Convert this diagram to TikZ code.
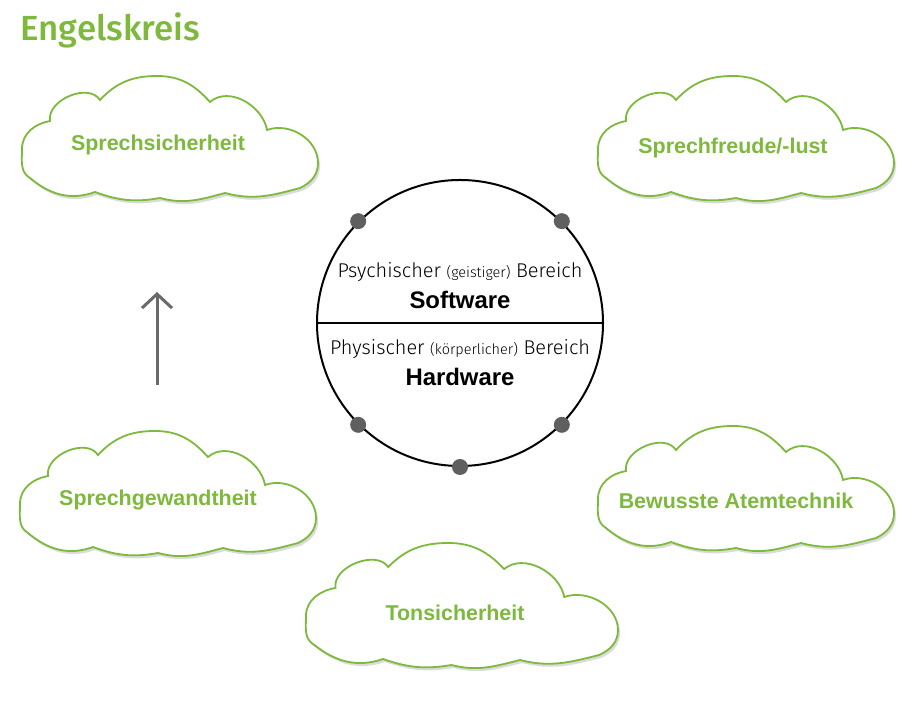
\documentclass[tikz,border=0pt]{standalone}
\usepackage{fontspec}
\usetikzlibrary{arrows.meta}
\newfontfamily\wolkenfont{Liberation Sans}
\newfontfamily\kreisfont{Fira Sans Light}
\newfontfamily\titelfont{Fira Sans Medium}
\definecolor{gruen}{RGB}{125,185,60}
\definecolor{punktgrau}{RGB}{95,95,95}
\definecolor{pfeilgrau}{RGB}{105,105,105}
\tikzset{
  wolkenrand/.style={draw=gruen, line width=1.8bp, fill=white,
    preaction={fill=black!14, transform canvas={shift={(2bp,-3bp)}}}},
  wolkentext/.style={text=gruen, font=\wolkenfont\bfseries\fontsize{21.5}{24}\selectfont},
  kreistext/.style={font=\kreisfont\fontsize{20}{22}\selectfont},
  kreisfett/.style={font=\wolkenfont\bfseries\fontsize{24}{26}\selectfont},
  punkt/.style={circle, fill=punktgrau, inner sep=0pt, minimum size=16bp},
  wolke/.pic={
    \draw[wolkenrand] (8,27) to[out=150,in=270] (0,56) to[out=90,in=190] (28,84)
      to[out=99,in=123] (78,105) to[out=47,in=180] (135,129) to[out=0,in=132] (188,103)
      to[out=41,in=100] (245,75) to[out=20,in=90] (296,42) to[out=270,in=25] (278,17)
      to[out=195,in=-15] (203,12) to[out=195,in=-15] (138,7) to[out=190,in=-20] (73,13)
      to[out=200,in=-40] cycle;
  }
}
\newcommand{\klein}[1]{{\fontsize{14.5}{16}\selectfont #1}}
\begin{document}
\begin{tikzpicture}[x=1bp,y=1bp]
\useasboundingbox[fill=white] (0,0) rectangle (919,723);

% Titel
\node[anchor=west, text=gruen, font=\titelfont\fontsize{35}{38}\selectfont] (titel) at (17,693) {Engelskreis};

% Wolken
\pic at (22,518) {wolke};
\pic at (598,518) {wolke};
\pic at (20,163) {wolke};
\pic at (598,168) {wolke};
\pic[xscale=1.054] at (306,51) {wolke};

% Text Node
\node[wolkentext] (sicherheit) at (158,578) {Sprechsicherheit};
\node[wolkentext] (freude) at (733,575) {Sprechfreude/-lust};
\node[wolkentext] (gewandtheit) at (158,223) {Sprechgewandtheit};
\node[wolkentext] (atemtechnik) at (736,222) {Bewusste Atemtechnik};
\node[wolkentext] (ton) at (455,110) {Tonsicherheit};

% Kreis
\node[circle, draw=black, line width=2bp, minimum size=286bp, inner sep=0pt] (kreis) at (460,400) {};
\draw[line width=1.6bp] (kreis.west) -- (kreis.east);
\foreach \w in {45,135,225,270,315}
  \node[punkt] at (kreis.\w) {};

% Text Node
\node[kreistext] (psych) at (460,451) {Psychischer \klein{(geistiger)} Bereich};
\node[kreisfett] (soft) at (460,423) {Software};
\node[kreistext] (phys) at (460,374) {Physischer \klein{(körperlicher)} Bereich};
\node[kreisfett] (hard) at (460,346) {Hardware};

% Pfeil
\coordinate (pfeilfuss) at (157,338);
\coordinate (pfeilspitze) at (157,431);
\draw[pfeilgrau, line width=3bp, -{Straight Barb[length=14bp,width=30bp]}] (pfeilfuss) -- (pfeilspitze);

\end{tikzpicture}
\end{document}
